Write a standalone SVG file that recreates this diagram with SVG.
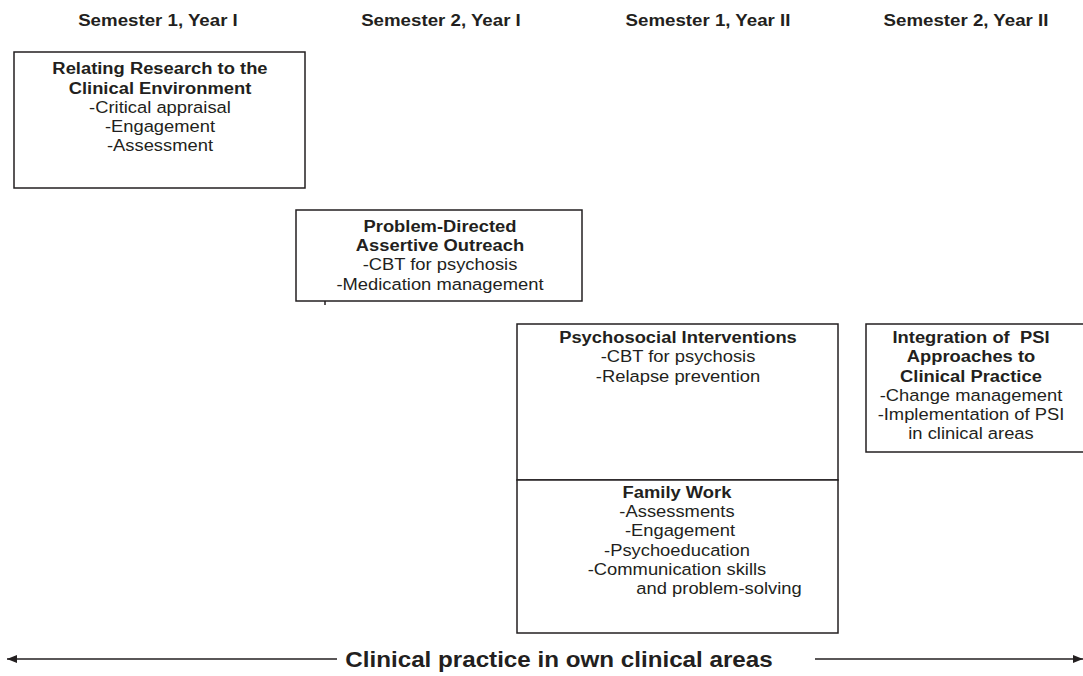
<svg xmlns="http://www.w3.org/2000/svg" width="1083" height="676" viewBox="0 0 1083 676">
<defs>
<style>
text{font-family:"Liberation Sans",Arial,sans-serif;fill:#231f20;text-anchor:middle;transform-box:fill-box;transform-origin:center;transform:scaleX(1.08)}
.h{font-size:17px;font-weight:bold;transform:scaleX(1.1)}
.t{font-size:17px}
.b{font-weight:bold}
.big{font-size:22px;font-weight:bold;transform:scaleX(1.1)}
.box{fill:#fff;stroke:#231f20;stroke-width:1.5}
.ln{stroke:#231f20;stroke-width:1.5;fill:none}
</style>
<marker id="ah" viewBox="0 0 10 10" refX="10" refY="5" markerWidth="12" markerHeight="10" markerUnits="userSpaceOnUse" orient="auto-start-reverse">
<path d="M0,1 L10,5 L0,9 z" fill="#231f20"/>
</marker>
</defs>
<rect width="1083" height="676" fill="#fff"/>
<g id="headers">
<text class="h" x="158" y="26">Semester 1, Year I</text>
<text class="h" x="441" y="26">Semester 2, Year I</text>
<text class="h" x="708" y="26">Semester 1, Year II</text>
<text class="h" x="966" y="26">Semester 2, Year II</text>
</g>
<g id="node-research">
<rect class="box" x="14" y="52" width="291" height="136"/>
<text class="t b" x="160" y="74">Relating Research to the</text>
<text class="t b" x="160" y="94">Clinical Environment</text>
<text class="t" x="160" y="113">-Critical appraisal</text>
<text class="t" x="160" y="132">-Engagement</text>
<text class="t" x="160" y="151">-Assessment</text>
</g>
<g id="node-outreach">
<rect class="box" x="296" y="210" width="286" height="91"/>
<line class="ln" x1="325" y1="301" x2="325" y2="305"/>
<text class="t b" x="440" y="232">Problem-Directed</text>
<text class="t b" x="440" y="251">Assertive Outreach</text>
<text class="t" x="440" y="270">-CBT for psychosis</text>
<text class="t" x="440" y="290">-Medication management</text>
</g>
<g id="node-psi">
<rect class="box" x="517" y="324" width="321" height="156"/>
<text class="t b" x="678" y="343">Psychosocial Interventions</text>
<text class="t" x="678" y="362">-CBT for psychosis</text>
<text class="t" x="678" y="382">-Relapse prevention</text>
</g>
<g id="node-family">
<rect class="box" x="517" y="480" width="321" height="153"/>
<text class="t b" x="677" y="498">Family Work</text>
<text class="t" x="677" y="517">-Assessments</text>
<text class="t" x="680" y="536">-Engagement</text>
<text class="t" x="677" y="556">-Psychoeducation</text>
<text class="t" x="677" y="575">-Communication skills</text>
<text class="t" x="719" y="594">and problem-solving</text>
</g>
<g id="node-integration">
<rect class="box" x="866" y="324" width="220" height="128"/>
<text class="t b" x="971" y="343">Integration of&#160; PSI</text>
<text class="t b" x="971" y="362">Approaches to</text>
<text class="t b" x="971" y="382">Clinical Practice</text>
<text class="t" x="971" y="401">-Change management</text>
<text class="t" x="971" y="420">-Implementation of PSI</text>
<text class="t" x="971" y="439">in clinical areas</text>
</g>
<g id="connectors">
<line class="ln" x1="337" y1="659" x2="7" y2="659" marker-end="url(#ah)"/>
<line class="ln" x1="815" y1="659" x2="1083" y2="659" marker-end="url(#ah)"/>
<text class="big" x="559" y="667">Clinical practice in own clinical areas</text>
</g>
</svg>
